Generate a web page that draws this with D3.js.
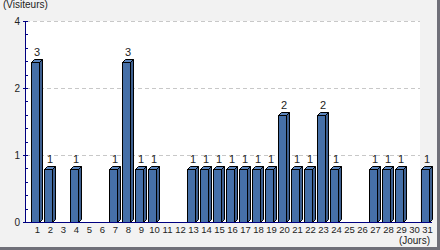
<!DOCTYPE html>
<html>
<head>
<meta charset="utf-8">
<script src="https://cdn.jsdelivr.net/npm/d3@7"></script>
<style>
  body { margin: 0; background: #f2f2f2; }
  text { font-family: 'Liberation Sans', Arial, sans-serif; }
</style>
</head>
<body>
<div id="chart"></div>
<script>
const days = d3.range(1, 32)
const visitors = [3, 1, 0, 1, 0, 0, 1, 3, 1, 1, 0, 0, 1, 1, 1, 1, 1, 1, 1, 2, 1, 1, 2, 1, 0, 0, 1, 1, 1, 0, 1]
const yTickValues = [0.5, 1, 2, 4] // axis labels 0,1,2,4 sit evenly spaced
const yTickLabels = ['0', '1', '2', '4']

const width = 440
const height = 250
const plot = { left: 25, right: 420, top: 21, bottom: 222 }
const depth = 3

const svg = d3.select('#chart').append('svg')
  .attr('width', width)
  .attr('height', height)
  .style('display', 'block')

// background + shadow frame
svg.append('rect').attr('width', width).attr('height', height).attr('fill', '#f2f2f2')
svg.append('rect').attr('x', width - 3).attr('y', 0).attr('width', 3).attr('height', height).attr('fill', '#707079')
svg.append('rect').attr('x', 0).attr('y', height - 3).attr('width', width).attr('height', 3).attr('fill', '#707079')

svg.append('rect')
  .attr('x', plot.left)
  .attr('y', plot.top)
  .attr('width', plot.right - plot.left)
  .attr('height', plot.bottom - plot.top)
  .attr('fill', '#fff')

// axis scale (log2, "0" drawn where 0.5 would be) and bar scale (linear)
const yAxisScale = d3.scaleLog().base(2).domain([0.5, 4]).range([plot.bottom, plot.top])
const yMinor = d3.scaleLinear().domain([0, 15]).range([plot.bottom, plot.top])
const y = d3.scaleLinear().domain([0, 3.76]).range([plot.bottom, plot.top])
const x = d3.scalePoint().domain(days).range([37, 427])

// gridlines
svg.append('g')
  .selectAll('line')
  .data(yTickValues.slice(1))
  .join('line')
  .attr('x1', plot.left + 1)
  .attr('x2', plot.right)
  .attr('y1', d => Math.round(yAxisScale(d)) + 0.5)
  .attr('y2', d => Math.round(yAxisScale(d)) + 0.5)
  .attr('stroke', '#c8c8c8')
  .attr('stroke-dasharray', '4,3')

const dayData = days.map((d, i) => ({ day: d, value: visitors[i] })).filter(d => d.value > 0)

// bars with a small 3D depth
const bars = svg.append('g')
  .selectAll('g')
  .data(dayData)
  .join('g')
  .attr('stroke', '#000')
  .attr('stroke-width', 1)

const x0 = d => x(d.day) - 5.5
const x1 = d => x(d.day) + 2.5
const barTop = d => Math.round(y(d.value)) + 0.5
const base = plot.bottom + 0.5

bars.append('polygon')
  .attr('fill', '#3d5f8f')
  .attr('points', d => [[x1(d), barTop(d)], [x1(d) + depth, barTop(d) - depth], [x1(d) + depth, base - depth], [x1(d), base]].join(' '))

bars.append('polygon')
  .attr('fill', '#5b85bd')
  .attr('points', d => [[x0(d), barTop(d)], [x0(d) + depth, barTop(d) - depth], [x1(d) + depth, barTop(d) - depth], [x1(d), barTop(d)]].join(' '))

bars.append('rect')
  .attr('fill', '#4670a8')
  .attr('x', x0)
  .attr('y', barTop)
  .attr('width', d => x1(d) - x0(d))
  .attr('height', d => base - barTop(d))

// value labels
svg.append('g')
  .selectAll('text')
  .data(dayData)
  .join('text')
  .attr('x', d => x(d.day))
  .attr('y', d => barTop(d) - depth - 4)
  .attr('text-anchor', 'middle')
  .attr('font-size', 11)
  .attr('fill', '#222')
  .text(d => d.value)

// y axis: minor ticks and labels
const yAxis = svg.append('g')
yAxis.selectAll('line.minor')
  .data(d3.range(0, 16))
  .join('line')
  .attr('class', 'minor')
  .attr('x1', plot.left)
  .attr('x2', plot.left + 3)
  .attr('y1', d => Math.round(yMinor(d)) + 0.5)
  .attr('y2', d => Math.round(yMinor(d)) + 0.5)
  .attr('stroke', '#000080')
yAxis.selectAll('line.major')
  .data(yTickValues)
  .join('line')
  .attr('class', 'major')
  .attr('x1', plot.left - 2)
  .attr('x2', plot.left)
  .attr('y1', d => Math.round(yAxisScale(d)) + 0.5)
  .attr('y2', d => Math.round(yAxisScale(d)) + 0.5)
  .attr('stroke', '#000080')
yAxis.selectAll('text')
  .data(yTickValues)
  .join('text')
  .attr('x', plot.left - 5)
  .attr('y', d => yAxisScale(d))
  .attr('dy', '0.35em')
  .attr('text-anchor', 'end')
  .attr('font-size', 10)
  .attr('fill', '#222')
  .text((d, i) => yTickLabels[i])
yAxis.append('line')
  .attr('x1', plot.left + 0.5)
  .attr('x2', plot.left + 0.5)
  .attr('y1', plot.top)
  .attr('y2', plot.bottom + 1)
  .attr('stroke', '#000080')

// x axis
const xAxis = svg.append('g')
  .attr('transform', `translate(0,${plot.bottom})`)
  .call(d3.axisBottom(x).tickSize(0).tickPadding(4))
xAxis.select('.domain').remove()
xAxis.selectAll('text')
  .attr('font-size', 9.5)
  .attr('font-family', "'Liberation Sans', Arial, sans-serif")
  .attr('fill', '#222')
svg.append('line')
  .attr('x1', plot.left)
  .attr('x2', 432)
  .attr('y1', plot.bottom + 0.5)
  .attr('y2', plot.bottom + 0.5)
  .attr('stroke', '#000080')

// axis titles
svg.append('text')
  .attr('x', 3)
  .attr('y', 8)
  .attr('font-size', 10)
  .attr('fill', '#222')
  .text('(Visiteurs)')
svg.append('text')
  .attr('x', 430)
  .attr('y', 244)
  .attr('text-anchor', 'end')
  .attr('font-size', 10)
  .attr('fill', '#222')
  .text('(Jours)')
</script>
</body>
</html>
